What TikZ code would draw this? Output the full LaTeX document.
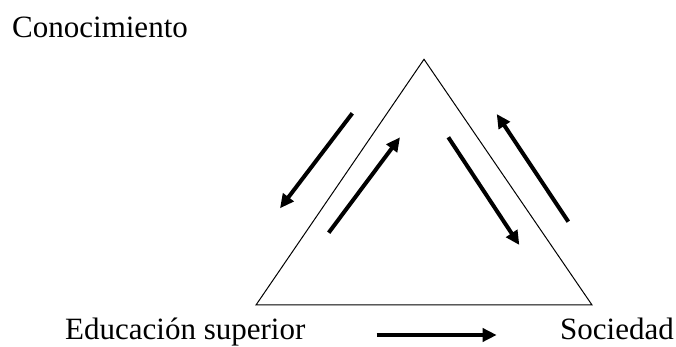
\documentclass[tikz,border=0pt]{standalone}
\usepackage{fontspec}
\setmainfont{Liberation Serif}
\usetikzlibrary{arrows.meta}
\tikzset{
	etiqueta/.style={anchor=base west, inner sep=0pt, font=\fontsize{31}{37}\selectfont},
	flecha/.style={line width=4pt, -{Triangle[length=14pt,width=13pt]}}
}
\begin{document}
	\begin{tikzpicture}[x=1pt, y=1pt]
		\useasboundingbox (0,0) rectangle (676,347);
		% vertices del triangulo
		\coordinate (arriba) at (424,287.7);
		\coordinate (izq) at (256,42);
		\coordinate (der) at (592,42);
		\draw[line width=1pt] (arriba) -- (izq) -- (der) -- cycle;
		
		% textos
		\node[etiqueta] (conocimiento) at (12,309.3) {Conocimiento};
		\node[etiqueta] (educacion) at (65,7) {Educación superior};
		\node[etiqueta] (sociedad) at (560,7) {Sociedad};
		
		% extremos de las flechas
		\coordinate (f1a) at (352.3,233.7);
		\coordinate (f1b) at (280,138.7);
		\coordinate (f2a) at (328.7,114.3);
		\coordinate (f2b) at (400,209.7);
		\coordinate (f3a) at (448.3,209.7);
		\coordinate (f3b) at (519.3,102);
		\coordinate (f4a) at (568.3,125.3);
		\coordinate (f4b) at (496.7,233);
		\coordinate (f5a) at (376.7,12);
		\coordinate (f5b) at (496.7,12);
		
		\draw[flecha] (f1a) -- (f1b);
		\draw[flecha] (f2a) -- (f2b);
		\draw[flecha] (f3a) -- (f3b);
		\draw[flecha] (f4a) -- (f4b);
		\draw[flecha] (f5a) -- (f5b);
	\end{tikzpicture}
\end{document}
